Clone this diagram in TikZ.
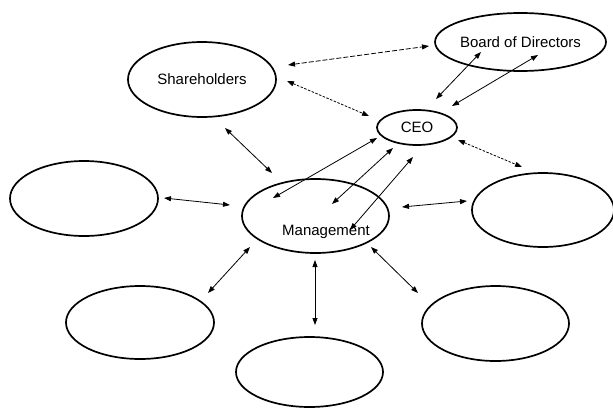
\documentclass[tikz,border=0pt]{standalone}
\usepackage{fontspec}
\setmainfont{Liberation Sans}
\usepackage{tikz}
\usetikzlibrary{arrows.meta,shapes.geometric,calc}

\tikzset{
    blob/.style={draw, line width=1.7pt, ellipse, inner sep=0pt},
    lbl/.style={font=\fontsize{15}{18}\selectfont},
    link/.style={line width=0.8pt, {Triangle[length=7pt,width=5pt]}-{Triangle[length=7pt,width=5pt]}},
    dlink/.style={link, dash pattern=on 2.5pt off 1.5pt},
    blink/.style={link, dash pattern=on 5pt off 2pt},
}

\begin{document}
\begin{tikzpicture}[x=1pt, y=-1pt]
\useasboundingbox (0,0) rectangle (613,407);

% === Ellipses ===
\node[blob, lbl, minimum width=148pt, minimum height=75pt] (share) at (202,79.5) {Shareholders};
\node[blob, lbl, minimum width=153pt, minimum height=58pt] (board) at (520.5,42) {Board of Directors};
\node[blob, lbl, minimum width=80pt, minimum height=35pt] (ceo) at (417,127.5) {CEO};
\node[blob, minimum width=147pt, minimum height=74pt] (mgmt) at (315.5,216) {};
\node[lbl] (mgmttext) at (326,232) {Management};

\node[blob, minimum width=148pt, minimum height=75pt] (west) at (84,198.5) {};
\node[blob, minimum width=142pt, minimum height=74pt] (east) at (543,210) {};
\node[blob, minimum width=148pt, minimum height=73pt] (swest) at (140,322.5) {};
\node[blob, minimum width=147pt, minimum height=70pt] (south) at (309.5,372) {};
\node[blob, minimum width=147pt, minimum height=75pt] (seast) at (495.5,323.5) {};

% === Arrow ends ===
\coordinate (sb1) at (288,65);   \coordinate (sb2) at (429,46);
\coordinate (sc1) at (287,81);   \coordinate (sc2) at (369,116);
\coordinate (bc1) at (481,52);   \coordinate (bc2) at (436,99);
\coordinate (bc3) at (538,55);   \coordinate (bc4) at (452,106);
\coordinate (sm1) at (225,128);  \coordinate (sm2) at (272,173);
\coordinate (cm1) at (377,138);  \coordinate (cm2) at (273,198);
\coordinate (cm3) at (393,148);  \coordinate (cm4) at (332,204);
\coordinate (cm5) at (413,157);  \coordinate (cm6) at (350,230);
\coordinate (ce1) at (458,140);  \coordinate (ce2) at (522,167);
\coordinate (wm1) at (164,198);  \coordinate (wm2) at (230,205);
\coordinate (me1) at (402,207);  \coordinate (me2) at (467,201);
\coordinate (mw1) at (250,247);  \coordinate (mw2) at (208,293);
\coordinate (ms1) at (315,260);  \coordinate (ms2) at (315,325);
\coordinate (mr1) at (371,247);  \coordinate (mr2) at (418,293);

% === Connectors ===
\draw[blink] (sb1) -- (sb2);
\draw[dlink] (sc1) -- (sc2);
\draw[dlink] (ce1) -- (ce2);
\draw[link] (bc1) -- (bc2);
\draw[link] (bc3) -- (bc4);
\draw[link] (sm1) -- (sm2);
\draw[link] (cm1) -- (cm2);
\draw[link] (cm3) -- (cm4);
\draw[link] (cm5) -- (cm6);
\draw[link] (wm1) -- (wm2);
\draw[link] (me1) -- (me2);
\draw[link] (mw1) -- (mw2);
\draw[link] (ms1) -- (ms2);
\draw[link] (mr1) -- (mr2);

\end{tikzpicture}
\end{document}
